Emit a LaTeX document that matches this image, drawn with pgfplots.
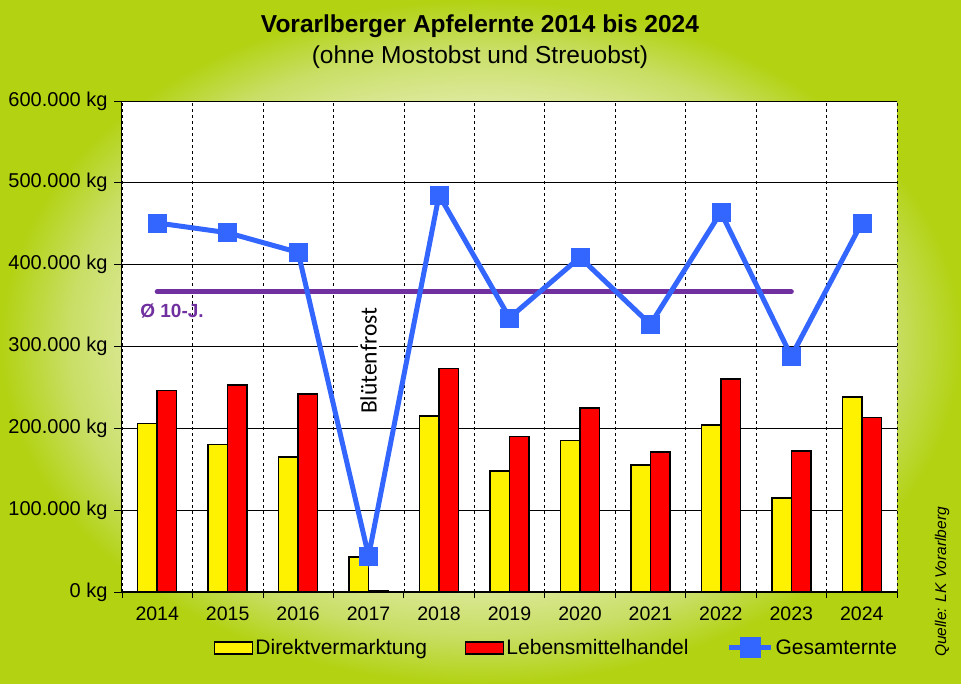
\documentclass[border=0pt]{standalone}
\usepackage{fontspec}
\setmainfont{Liberation Sans}
\newfontfamily\calibri{Carlito}
\usepackage{pgfplots}
\pgfplotsset{compat=1.18}
\definecolor{bgout}{RGB}{178,210,18}
\definecolor{bgmid}{RGB}{200,222,100}
\definecolor{bgin}{RGB}{226,236,170}
\definecolor{gblue}{RGB}{51,102,255}
\definecolor{avgpurple}{RGB}{112,48,160}
\pgfdeclareradialshading{bgshade}{\pgfpoint{0bp}{0bp}}{color(0bp)=(bgin); color(16.5bp)=(bgin); color(21.5bp)=(bgmid); color(25bp)=(bgout); color(50bp)=(bgout)}
\begin{document}
\begin{tikzpicture}[x=1pt,y=1pt]
\shade[shading=bgshade] (0,0) rectangle (961,684);
\node[font=\fontsize{24.5}{28}\selectfont\bfseries] at (480,658) {Vorarlberger Apfelernte 2014 bis 2024};
\node[font=\fontsize{24.5}{28}\selectfont] at (480,627) {(ohne Mostobst und Streuobst)};
\node[rotate=90, font=\fontsize{15.5}{18}\selectfont\itshape] at (942,102) {Quelle: LK Vorarlberg};
\begin{axis}[at={(122pt,92pt)}, anchor=south west, scale only axis, width=775pt, height=491pt,
  xmin=-0.5, xmax=10.5, ymin=0, ymax=600000,
  axis background/.style={fill=white},
  axis x line*=bottom, axis y line*=left,
  axis line style={black, line width=1pt},
  tick align=outside,
  xtick={0,...,10}, xticklabels={2014,2015,2016,2017,2018,2019,2020,2021,2022,2023,2024},
  major x tick style={draw=none},
  minor xtick={-0.5,0.5,...,10.5},
  minor x tick style={black, line width=0.8pt},
  minor tick length=6pt,
  xminorgrids, minor x grid style={black, dashed, line width=0.6pt},
  ytick={0,100000,200000,300000,400000,500000,600000},
  yticklabels={0 kg,100.000 kg,200.000 kg,300.000 kg,400.000 kg,500.000 kg,600.000 kg},
  major tick length=8pt,
  major y tick style={black, line width=0.8pt},
  ymajorgrids, major y grid style={black, line width=0.8pt},
  yticklabel style={font=\fontsize{20}{23}\selectfont, xshift=-3pt},
  xticklabel style={font=\fontsize{19.5}{22}\selectfont, yshift=-3pt},
  scaled y ticks=false,
  legend style={at={(0.5606,-0.114)}, anchor=center, draw=none, fill=none,
    legend columns=3, font=\fontsize{21}{24}\selectfont,
    /tikz/every even column/.append style={column sep=36pt}},
  legend cell align=left,
]
\addplot[ybar, bar width=19.5pt, bar shift=-9.75pt, fill=yellow, draw=black, line width=1.5pt,
  legend image code/.code={\draw[fill=yellow, draw=black, line width=1.5pt] (0pt,-6pt) rectangle (38pt,6pt);}]
  coordinates {(0,206000) (1,180000) (2,165000) (3,43000) (4,215000) (5,148000) (6,185000) (7,155000) (8,204000) (9,115000) (10,238000)};
\addlegendentry{Direktvermarktung}
\addplot[ybar, bar width=19.5pt, bar shift=9.75pt, fill=red, draw=black, line width=1.5pt,
  legend image code/.code={\draw[fill=red, draw=black, line width=1.5pt] (0pt,-6pt) rectangle (38pt,6pt);}]
  coordinates {(0,246000) (1,253000) (2,242000) (3,1500) (4,273000) (5,190000) (6,225000) (7,171000) (8,260000) (9,172000) (10,213000)};
\addlegendentry{Lebensmittelhandel}
\addplot[avgpurple, line width=5pt, line cap=round, forget plot] coordinates {(0,367000) (9,367000)};
\addplot[gblue, line width=5pt, mark=square*, mark size=9pt, mark options={solid, line width=0.5pt, fill=gblue, draw=gblue},
  legend image code/.code={\draw[gblue, line width=5pt] (0pt,0pt) -- (42pt,0pt); \fill[gblue] (13pt,-8pt) rectangle (29pt,8pt);}]
  coordinates {(0,451000) (1,439000) (2,415000) (3,44000) (4,485000) (5,335000) (6,409000) (7,327000) (8,464000) (9,288000) (10,451000)};
\addlegendentry{Gesamternte}
\node[rotate=90, fill=white, inner sep=2pt, font=\calibri\fontsize{23.5}{26}\selectfont] at (axis cs:3,282600) {Blütenfrost};
\node[text=avgpurple, font=\bfseries\fontsize{19}{22}\selectfont] at (axis cs:0.21,343500) {Ø 10-J.};
\draw[gray, line width=0.8pt] (rel axis cs:1,0) -- (rel axis cs:1,1);
\end{axis}
\pgfresetboundingbox
\path[use as bounding box] (0,0) rectangle (961,684);
\end{tikzpicture}
\end{document}
